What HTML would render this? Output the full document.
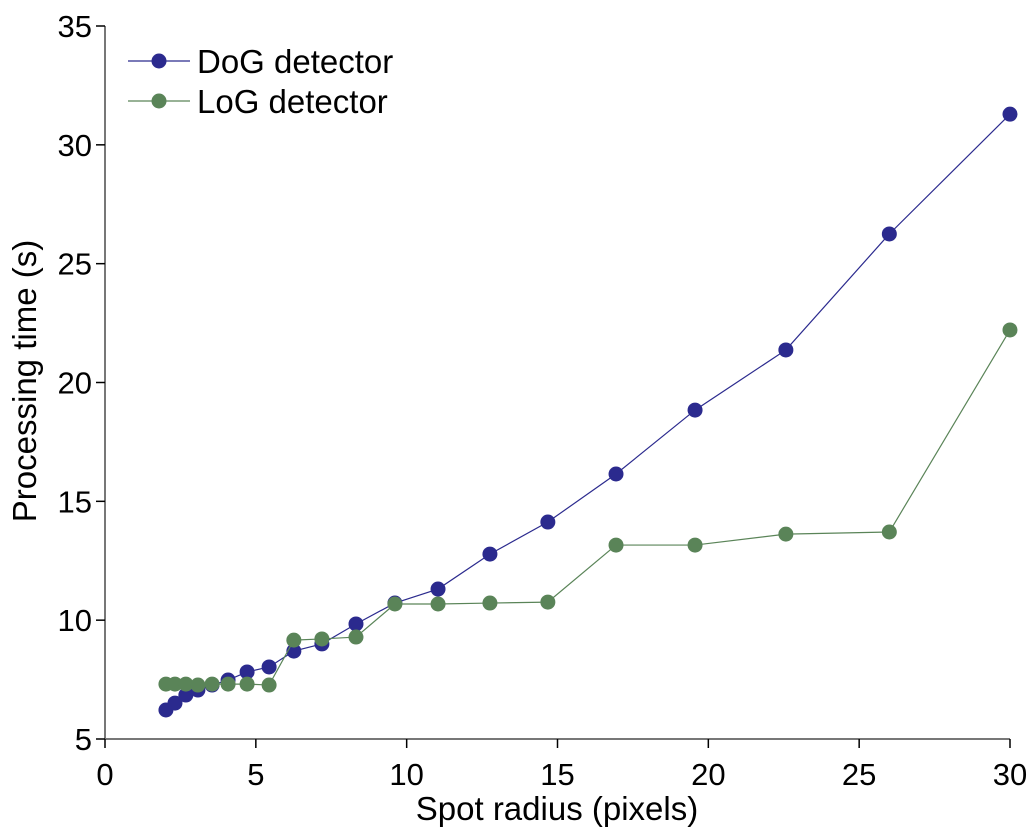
<!DOCTYPE html>
<html><head><meta charset="utf-8"><style>
body{margin:0;background:#fff;}
svg{display:block;font-family:"Liberation Sans",sans-serif;}
</style></head><body>
<svg id="chart" width="1035" height="831"></svg>
<script>
const xs=[2.02,2.32,2.68,3.08,3.55,4.08,4.71,5.44,6.26,7.19,8.32,9.61,11.04,12.76,14.68,16.94,19.56,22.57,26.0,30.0];
const dog=[6.22,6.51,6.85,7.06,7.27,7.48,7.82,8.03,8.70,9.0,9.84,10.72,11.31,12.78,14.13,16.15,18.84,21.37,26.25,31.29];
const logv=[7.31,7.31,7.31,7.27,7.31,7.31,7.31,7.27,9.16,9.21,9.29,10.68,10.68,10.72,10.76,13.16,13.16,13.62,13.71,22.21];
const xTicks=[0,5,10,15,20,25,30];
const yTicks=[5,10,15,20,25,30,35];
const NS="http://www.w3.org/2000/svg";
const svg=document.getElementById('chart');
const X=v=>105+v*(1010-105)/30;
const Y=v=>739-(v-5)*(739-26)/30;
function el(t,a,p){const e=document.createElementNS(NS,t);for(const k in a)e.setAttribute(k,a[k]);(p||svg).appendChild(e);return e;}
let e;
e=el('line',{x1:105,y1:26,x2:105,y2:739,stroke:'#777','stroke-width':2});


e=el('line',{x1:105,y1:739,x2:1010,y2:739,stroke:'#777','stroke-width':2});


xTicks.forEach(t=>{
 e=el('line',{x1:X(t),y1:739,x2:X(t),y2:748,stroke:'#000','stroke-width':1.5});
 
 
 e=el('text',{x:X(t),y:785,'text-anchor':'middle','font-size':31});e.textContent=t;
 
 
});
yTicks.forEach(t=>{
 e=el('line',{x1:96,y1:Y(t),x2:105,y2:Y(t),stroke:'#000','stroke-width':1.5});
 
 
 e=el('text',{x:92,y:Y(t)+11,'text-anchor':'end','font-size':31});e.textContent=t;
 
 
});
e=el('text',{x:557,y:820,'text-anchor':'middle','font-size':33});e.textContent='Spot radius (pixels)';


e=el('text',{x:0,y:0,'text-anchor':'middle','font-size':33,transform:'translate(36,381) rotate(-90)'});e.textContent='Processing time (s)';


function series(vals,color,name){
 const g=el('g',{});
 
 
 e=el('polyline',{points:xs.map((x,i)=>X(x)+','+Y(vals[i])).join(' '),fill:'none',stroke:color,'stroke-width':1.2},g);
 
 
 xs.forEach((x,i)=>{e=el('circle',{cx:X(x),cy:Y(vals[i]),r:7.5,fill:color},g);
 
 });
}
series(dog,'#2b2a8e','dog-series');
series(logv,'#5a8458','log-series');
[['DoG detector','#2b2a8e',61],['LoG detector','#5a8458',101]].forEach(([t,c,y])=>{
 const g=el('g',{});
 
 
 el('line',{x1:128,y1:y,x2:190,y2:y,stroke:c,'stroke-width':1.2},g);
 el('circle',{cx:159,cy:y,r:7.5,fill:c},g);
 const tx=el('text',{x:197,y:y+12,'font-size':33},g);tx.textContent=t;
});
</script>
</body></html>
